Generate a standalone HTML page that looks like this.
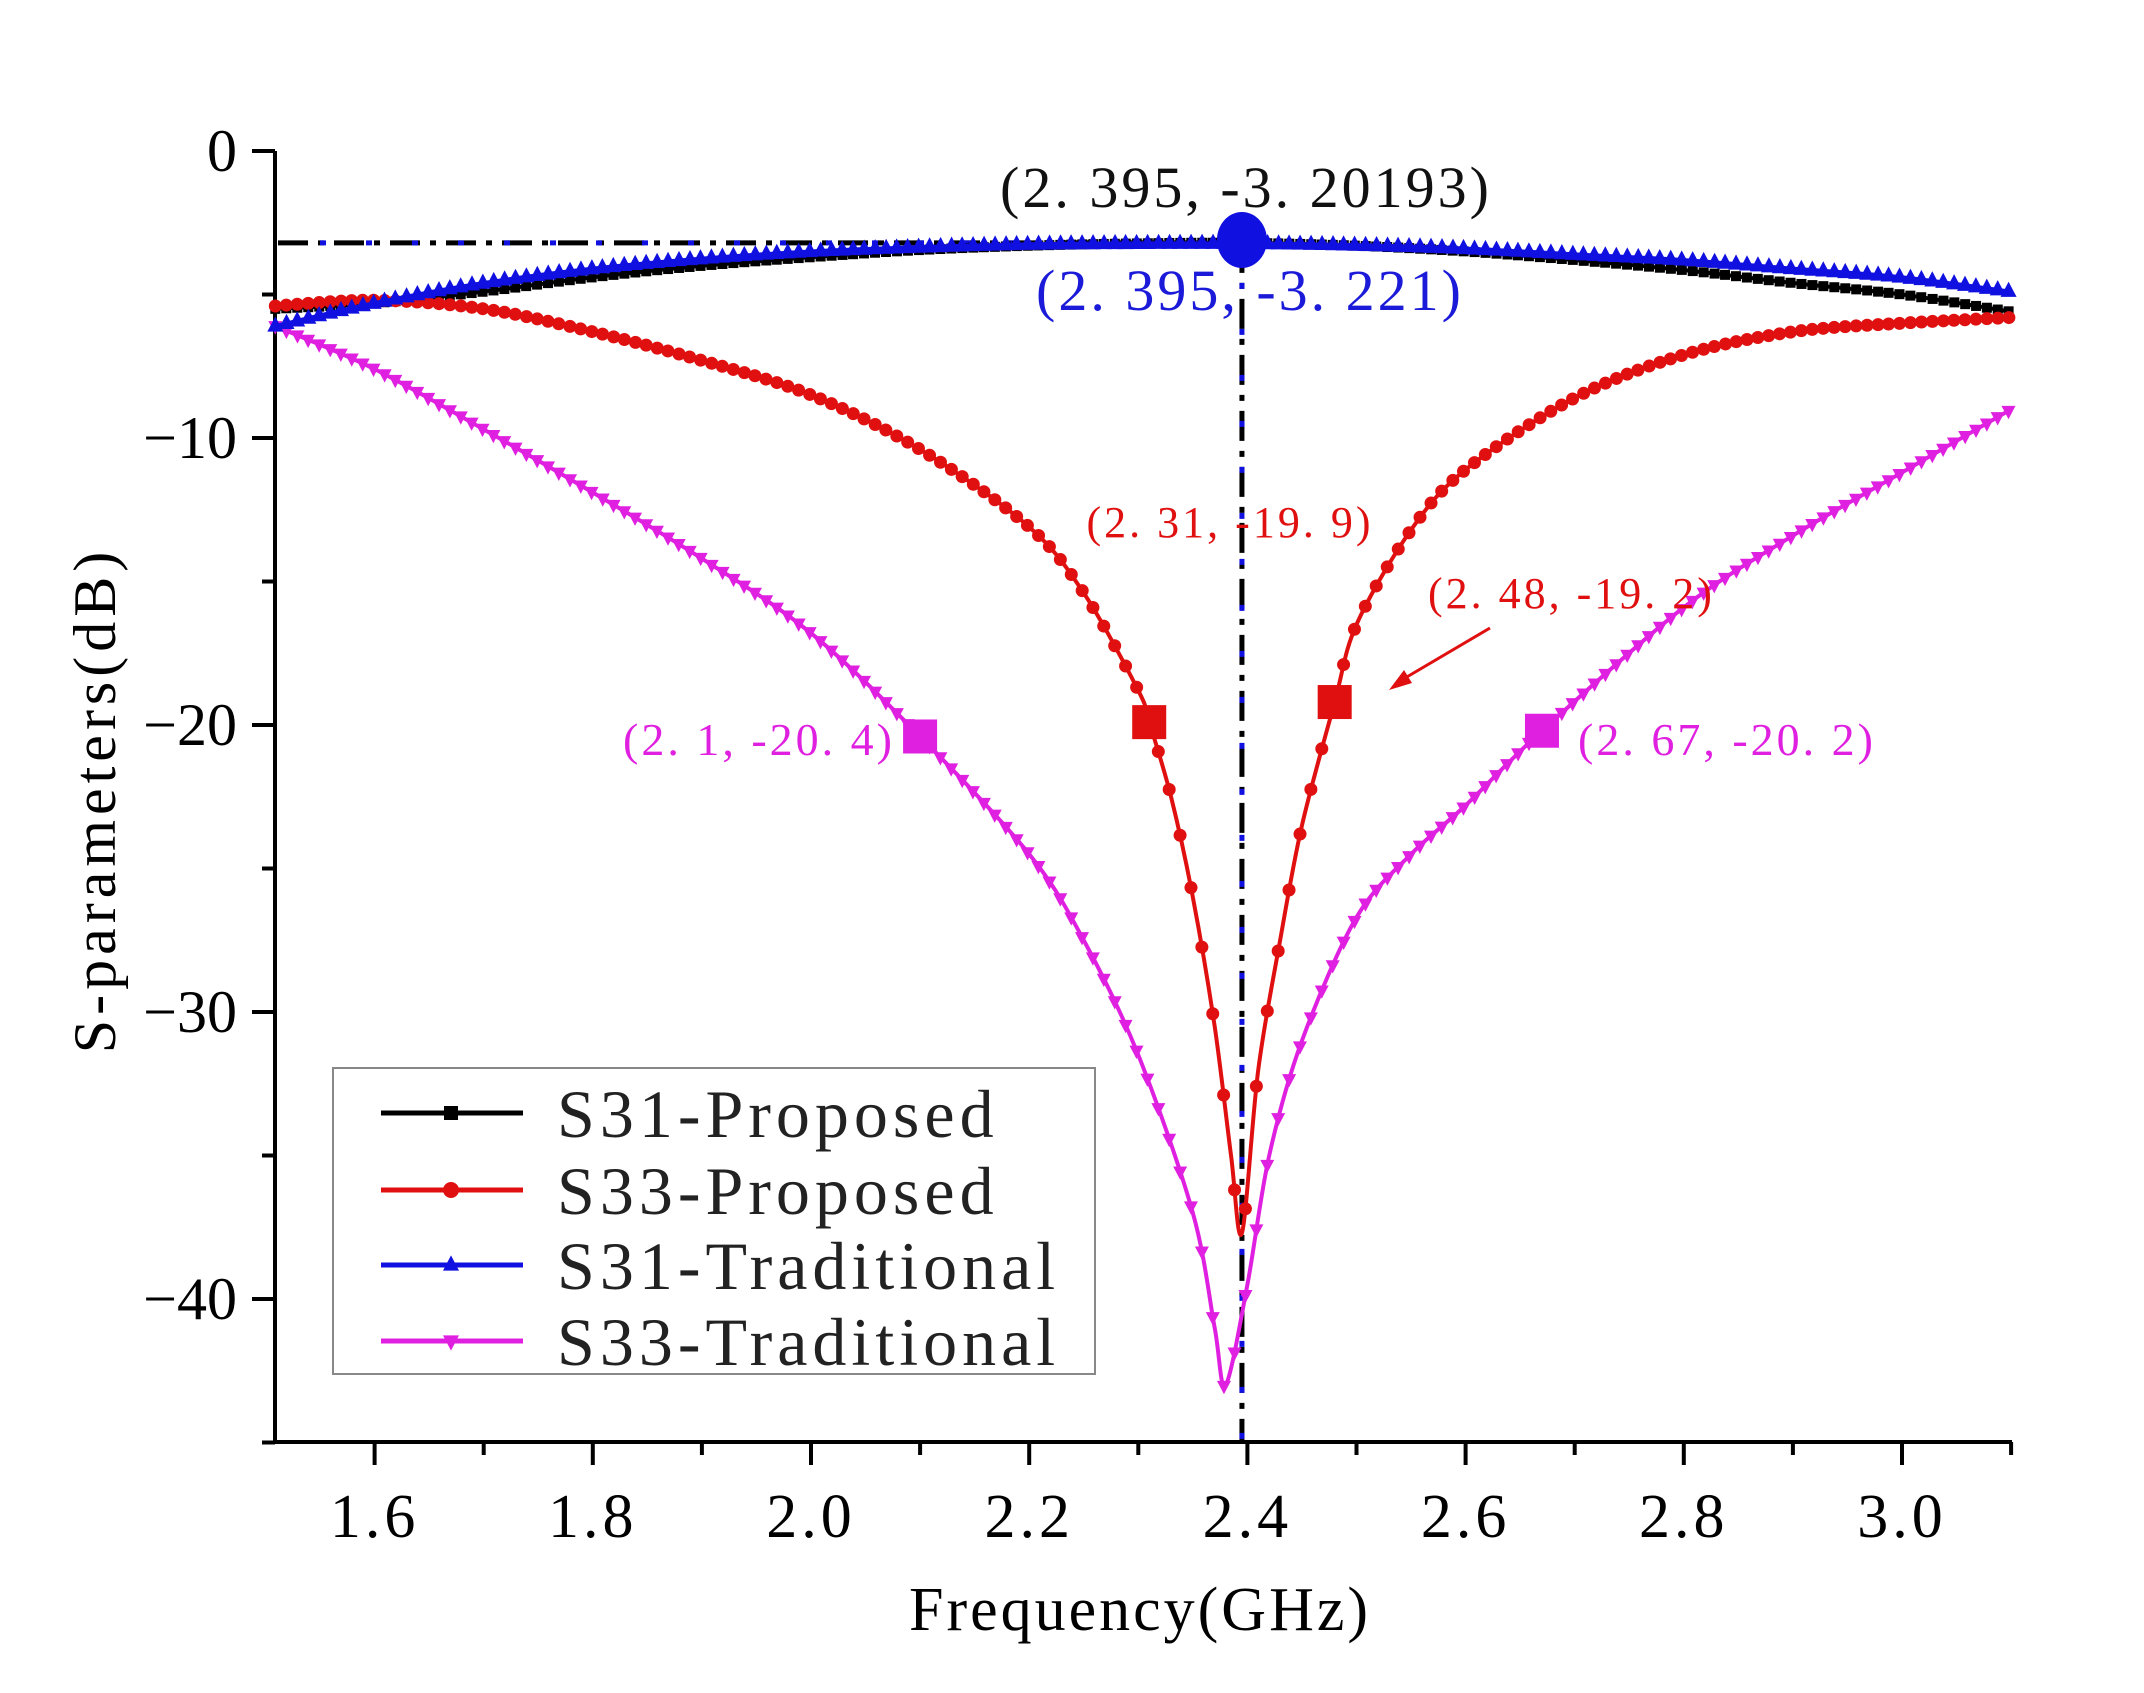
<!DOCTYPE html>
<html><head><meta charset="utf-8"><style>
html,body{margin:0;padding:0;background:#fff;}
svg{display:block;}
text{font-family:"Liberation Serif","Noto Serif CJK SC",serif;}
</style></head><body>
<svg id="chart" width="2144" height="1693" viewBox="0 0 2144 1693" xmlns="http://www.w3.org/2000/svg">
<g id="plot"></g>
</svg>
<script>
const xTicks=[1.6,1.8,2.0,2.2,2.4,2.6,2.8,3.0];
const xTickLabels=["1.6","1.8","2.0","2.2","2.4","2.6","2.8","3.0"];
const yTicks=[0,-10,-20,-30,-40];
const yTickLabels=["0","\u221210","\u221220","\u221230","\u221240"];
const s31pX=[1.509,1.6,1.7,1.8,1.9,2.0,2.1,2.2,2.3,2.395,2.5,2.6,2.7,2.8,2.9,3.0,3.1];
const s31pY=[-5.5,-5.3,-4.9,-4.4,-4.0,-3.7,-3.45,-3.3,-3.22,-3.2,-3.3,-3.5,-3.8,-4.15,-4.6,-5.0,-5.6];
const s31tX=[1.509,1.6,1.7,1.8,1.9,2.0,2.1,2.2,2.3,2.395,2.5,2.6,2.7,2.8,2.9,3.0,3.1];
const s31tY=[-6.1,-5.3,-4.6,-4.1,-3.75,-3.5,-3.35,-3.25,-3.22,-3.22,-3.28,-3.4,-3.6,-3.8,-4.1,-4.4,-4.9];
const s33pX=[1.509,1.6,1.7,1.8,1.9,2.0,2.1,2.2,2.25,2.3,2.31,2.33,2.35,2.37,2.385,2.395,2.41,2.43,2.45,2.48,2.5,2.55,2.6,2.7,2.8,2.9,3.0,3.1];
const s33pY=[-5.4,-5.2,-5.5,-6.3,-7.3,-8.5,-10.4,-13.1,-15.4,-18.8,-19.9,-22.5,-26.0,-30.5,-35.0,-37.7,-32.0,-27.5,-23.5,-19.2,-16.5,-13.2,-11.1,-8.6,-7.1,-6.3,-6.0,-5.8];
const s33tX=[1.509,1.6,1.7,1.8,1.9,2.0,2.1,2.2,2.25,2.3,2.35,2.37,2.38,2.4,2.42,2.45,2.5,2.55,2.6,2.67,2.8,2.9,3.0,3.1];
const s33tY=[-6.1,-7.6,-9.7,-11.9,-14.2,-16.8,-20.4,-24.5,-27.5,-31.5,-37.0,-41.0,-43.0,-39.5,-35.0,-31.0,-26.7,-24.5,-22.8,-20.2,-15.9,-13.4,-11.2,-9.0];

const NS="http://www.w3.org/2000/svg";
const g=document.getElementById('plot');
const X=x=>374.6+(x-1.6)*1091;
const Y=v=>151+(-v)*28.7;
function mk(tag,attrs,parent){const e=document.createElementNS(NS,tag);for(const k in attrs)e.setAttribute(k,attrs[k]);(parent||g).appendChild(e);return e;}

const ax=mk('path',{d:`M275 151 V1442 H2012`,stroke:'#000','stroke-width':4,fill:'none'});


for(let i=0;i<xTicks.length;i++){
  const t=mk('line',{x1:X(xTicks[i]),x2:X(xTicks[i]),y1:1442,y2:1465,stroke:'#000','stroke-width':4});
  
  
  const m=mk('line',{x1:X(xTicks[i]+0.1),x2:X(xTicks[i]+0.1),y1:1442,y2:1455,stroke:'#000','stroke-width':4});
  
  
  const l=mk('text',{x:X(xTicks[i]),y:1537,'text-anchor':'middle','font-size':62,'letter-spacing':4});
  l.textContent=xTickLabels[i];
  
  
}
for(let i=0;i<yTicks.length;i++){
  const t=mk('line',{x1:275,x2:252,y1:Y(yTicks[i]),y2:Y(yTicks[i]),stroke:'#000','stroke-width':4});
  
  
  const m=mk('line',{x1:275,x2:262,y1:Y(yTicks[i]-5),y2:Y(yTicks[i]-5),stroke:'#000','stroke-width':4});
  
  
  const l=mk('text',{x:237,y:Y(yTicks[i])+20,'text-anchor':'end','font-size':60});
  l.textContent=yTickLabels[i];
  
  
}
const xt=mk('text',{x:1140,y:1630,'text-anchor':'middle','font-size':62,'letter-spacing':3});
xt.textContent='Frequency(GHz)';


const yt=mk('text',{x:0,y:0,'text-anchor':'middle','font-size':60,transform:'translate(115 800) rotate(-90)','letter-spacing':5});
yt.textContent='S-parameters(dB)';



const hb=mk('line',{x1:278,x2:X(2.395),y1:Y(-3.2),y2:Y(-3.2),stroke:'#000','stroke-width':5,'stroke-dasharray':'30 10 6 10'});


const hbl=mk('line',{x1:320,x2:X(2.395),y1:Y(-3.2),y2:Y(-3.2),stroke:'#1010e0','stroke-width':5,'stroke-dasharray':'6 40'});


const vb=mk('line',{x1:X(2.395),x2:X(2.395),y1:Y(-3.2),y2:1442,stroke:'#000','stroke-width':5,'stroke-dasharray':'30 10 6 10'});


const vbl=mk('line',{x1:X(2.395),x2:X(2.395),y1:Y(-3.2)+40,y2:1442,stroke:'#1010e0','stroke-width':5,'stroke-dasharray':'6 40'});



function pathD(xs,ys){
  const p=xs.map((x,i)=>[X(x),Y(ys[i])]);
  let d=`M${p[0][0]} ${p[0][1]}`;
  for(let i=0;i<p.length-1;i++){
    const p0=p[Math.max(0,i-1)],p1=p[i],p2=p[i+1],p3=p[Math.min(p.length-1,i+2)];
    const t=0.16;
    const c1=[p1[0]+(p2[0]-p0[0])*t,p1[1]+(p2[1]-p0[1])*t];
    const c2=[p2[0]-(p3[0]-p1[0])*t,p2[1]-(p3[1]-p1[1])*t];
    d+=` C${c1[0]} ${c1[1]} ${c2[0]} ${c2[1]} ${p2[0]} ${p2[1]}`;
  }
  return d;
}
function drawMarker(type,color,x,y,s,parent){
  let e;
  if(type==='square')e=mk('rect',{x:x-s,y:y-s,width:2*s,height:2*s,fill:color},parent);
  else if(type==='circle')e=mk('circle',{cx:x,cy:y,r:s,fill:color},parent);
  else if(type==='up')e=mk('path',{d:`M${x} ${y-s*1.2} L${x+s} ${y+s*0.7} L${x-s} ${y+s*0.7}Z`,fill:color},parent);
  else e=mk('path',{d:`M${x} ${y+s*1.2} L${x+s} ${y-s*0.7} L${x-s} ${y-s*0.7}Z`,fill:color},parent);
  return e;
}
function series(name,xs,ys,color,type,s){
  const grp=mk('g',{});
  
  
  const path=mk('path',{d:pathD(xs,ys),stroke:color,'stroke-width':4,fill:'none'},grp);
  
  
  const L=path.getTotalLength();
  let target=X(xs[0]);const step=10.9;
  for(let l=0;l<=L;l+=0.5){
    const pt=path.getPointAtLength(l);
    if(pt.x>=target){
      const m=drawMarker(type,color,pt.x,pt.y,s,grp);
      
      
      target+=step;
    }
  }
}
series('s31-proposed',s31pX,s31pY,'#000','square',5);
series('s33-traditional',s33tX,s33tY,'#e020e0','down',7);
series('s33-proposed',s33pX,s33pY,'#e01010','circle',6.5);
series('s31-traditional',s31tX,s31tY,'#1010e0','up',8);

function sq(x,y,color,name){const r=mk('rect',{x:X(x)-17,y:Y(y)-17,width:34,height:34,fill:color});}
sq(2.31,-19.9,'#e01010','marker-2-31');
sq(2.48,-19.2,'#e01010','marker-2-48');
sq(2.1,-20.4,'#e020e0','marker-2-1');
sq(2.67,-20.2,'#e020e0','marker-2-67');
const dot=mk('ellipse',{cx:X(2.395),cy:240,rx:25,ry:28,fill:'#1010e0'});


function txt(s,x,y,size,color,anchor,name){const t=mk('text',{x:x,y:y,'font-size':size,fill:color,'text-anchor':anchor,'letter-spacing':3});t.textContent=s;}
txt('(2. 395, -3. 20193)',1246,207,58,'#111','middle','peak-label-black');
txt('(2. 395, -3. 221)',1250,310,58,'#1a1ad8','middle','peak-label-blue');
txt('(2. 31, -19. 9)',1230,537,44,'#e01010','middle','label-2-31');
txt('(2. 48, -19. 2)',1428,608,44,'#e01010','start','label-2-48');
txt('(2. 1, -20. 4)',895,755,46,'#e020e0','end','label-2-1');
txt('(2. 67, -20. 2)',1578,755,46,'#e020e0','start','label-2-67');
const ar=mk('line',{x1:1490,y1:628,x2:1400,y2:681,stroke:'#e01010','stroke-width':3});


const ah=mk('path',{d:'M1389 690 L1404 670 L1412 683Z',fill:'#e01010'});



const lg=mk('g',{});


const lb=mk('rect',{x:333,y:1068,width:762,height:306,fill:'#fff',stroke:'#888','stroke-width':2},lg);


const legNames=['S31-Proposed','S33-Proposed','S31-Traditional','S33-Traditional'];
const legColors=['#000','#e01010','#1010e0','#e020e0'];
const legTypes=['square','circle','up','down'];
const legYs=[1113,1190,1265,1341];
for(let i=0;i<4;i++){
  const e=mk('g',{},lg);
  
  
  mk('line',{x1:381,x2:523,y1:legYs[i],y2:legYs[i],stroke:legColors[i],'stroke-width':5},e);
  drawMarker(legTypes[i],legColors[i],451,legYs[i],legTypes[i]==='square'?7:8,e);
  const t=mk('text',{x:557,y:legYs[i]+24,'font-size':68,fill:'#222','letter-spacing':5},e);
  t.textContent=legNames[i];
}
</script>
</body></html>
